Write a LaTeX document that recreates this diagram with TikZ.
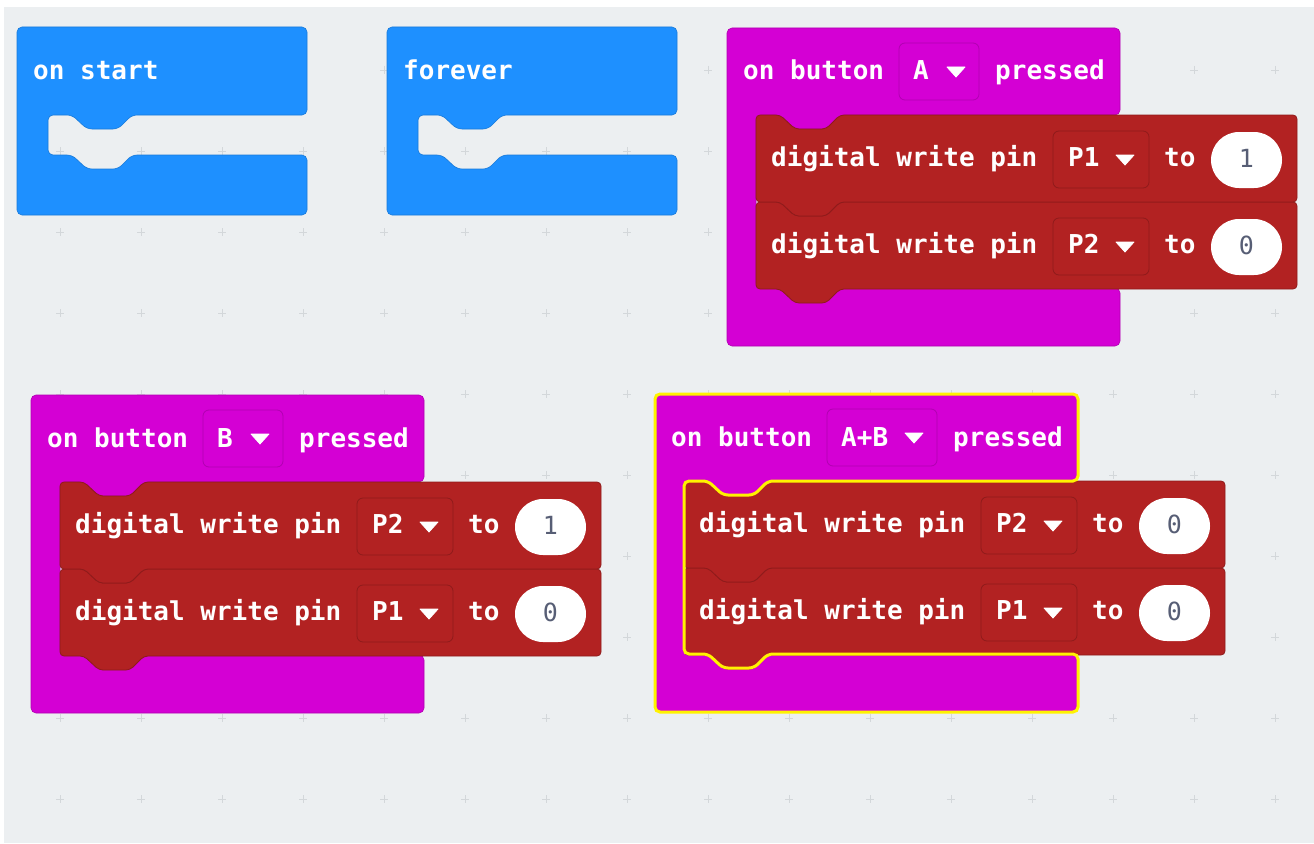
\documentclass[tikz,border=0pt]{standalone}
\usepackage{fontspec}
\newfontfamily\blk{DejaVu Sans Mono}
\definecolor{bgc}{HTML}{ECEFF1}
\definecolor{gridc}{HTML}{D3D7DA}
\definecolor{bluec}{HTML}{1E90FF}
\definecolor{pinkc}{HTML}{D400D4}
\definecolor{pinkd}{HTML}{B100B1}
\definecolor{redc}{HTML}{B22222}
\definecolor{redd}{HTML}{8F1B1B}
\definecolor{numc}{HTML}{575E75}
\definecolor{yelc}{HTML}{FFF200}
\tikzset{
  blktxt/.style={font=\blk\bfseries\fontsize{26}{30}\selectfont, text=white, inner sep=0pt, anchor=base west},
  numtxt/.style={font=\blk\fontsize{25}{30}\selectfont, text=numc, inner sep=0pt, anchor=base},
  bluefill/.style={fill=bluec, draw=bluec!85!black, line width=0.6pt, rounded corners=5pt},
  pinkfill/.style={fill=pinkc, draw=pinkd, line width=0.6pt, rounded corners=5pt},
  redfill/.style={fill=redc, draw=redd, line width=0.8pt, rounded corners=4pt},
  pinkdrop/.style={fill=pinkc, draw=pinkd, line width=0.8pt, rounded corners=6pt},
  reddrop/.style={fill=redc, draw=redd, line width=0.8pt, rounded corners=6pt},
  oval/.style={fill=white, rounded corners=28pt},
  tri/.style={fill=white, draw=white, line width=0.8pt, line join=round},
  selected/.style={draw=yelc, line width=3pt, rounded corners=5pt},
}
% C-shaped outline of an event block, width #1
\newcommand\hatpath[1]{(0,0) -- (#1,0) -- (#1,87) -- (113,87) -- (99,101) -- (68,101) -- (53,87) -- (29,87) -- (29,260) -- (53,260) -- (68,274) -- (99,274) -- (113,260) -- (#1,260) -- (#1,318) -- (0,318) -- cycle}
% event block: name, x, y, button letter, dropdown width
\newcommand\hatblk[5]{%
  \begin{scope}[shift={(#2,#3)}]
    \draw[pinkfill] \hatpath{313+#5};
    \node[blktxt] (#1on) at (16,52) {on button};
    \draw[pinkdrop] (172,15) rectangle (172+#5,72);
    \node[blktxt] (#1key) at (186,52) {#4};
    \filldraw[tri] (172+#5-32,39) -- (172+#5-14,39) -- (172+#5-23,49) -- cycle;
    \node[blktxt] (#1pr) at (172+#5+16,52) {pressed};
  \end{scope}}
% digital write statement: name, x, y, pin, value
\newcommand\wrblk[5]{%
  \begin{scope}[shift={(#2,#3)}]
    \draw[redfill] (0,0) -- (24,0) -- (39,14) -- (70,14) -- (84,0) -- (541,0) -- (541,87) -- (84,87) -- (70,101) -- (39,101) -- (24,87) -- (0,87) -- cycle;
    \node[blktxt] (#1txt) at (15,51) {digital write pin};
    \draw[reddrop] (297,16) rectangle (393,73);
    \node[blktxt] (#1pin) at (312,51) {#4};
    \filldraw[tri] (360,40) -- (378,40) -- (369,50) -- cycle;
    \node[blktxt] (#1to) at (408,51) {to};
    \fill[oval] (455,17) rectangle (526,73);
    \node[numtxt] (#1val) at (490.5,52) {#5};
  \end{scope}}
% blue container: name, x, y, label
\newcommand\blueblk[4]{%
  \begin{scope}[shift={(#2,#3)}]
    \draw[bluefill] (0,0) -- (290,0) -- (290,88) -- (115,88) -- (101,102) -- (70,102) -- (55,88) -- (31,88) -- (31,128) -- (55,128) -- (70,142) -- (101,142) -- (115,128) -- (290,128) -- (290,188) -- (0,188) -- cycle;
    \node[blktxt] (#1lab) at (16,53) {#4};
  \end{scope}}
\begin{document}
\begin{tikzpicture}[x=1pt,y=-1pt]
\useasboundingbox (0,0) rectangle (1314,843);
\fill[white] (0,0) rectangle (1314,843);
\fill[bgc] (4,7) rectangle (1314,843);
% workspace grid
\foreach \gx in {60,141,...,1275}
  \foreach \gy in {70,151,...,799}
    \draw[gridc, line width=0.8pt] (\gx-4,\gy) -- (\gx+4,\gy) (\gx,\gy-4) -- (\gx,\gy+4);
% on start / forever
\blueblk{st}{17}{27}{on start}
\blueblk{fe}{387}{27}{forever}
% on button A pressed
\hatblk{ba}{727}{28}{A}{80}
\wrblk{baw2}{756}{202}{P2}{0}
\wrblk{baw1}{756}{115}{P1}{1}
% on button B pressed
\hatblk{bb}{31}{395}{B}{80}
\wrblk{bbw2}{60}{569}{P1}{0}
\wrblk{bbw1}{60}{482}{P2}{1}
% on button A+B pressed (selected)
\hatblk{bab}{655}{394}{A+B}{110}
\wrblk{babw2}{684}{568}{P1}{0}
\wrblk{babw1}{684}{481}{P2}{0}
\begin{scope}[shift={(655,394)}]
  \draw[selected] \hatpath{423};
\end{scope}
\end{tikzpicture}
\end{document}
